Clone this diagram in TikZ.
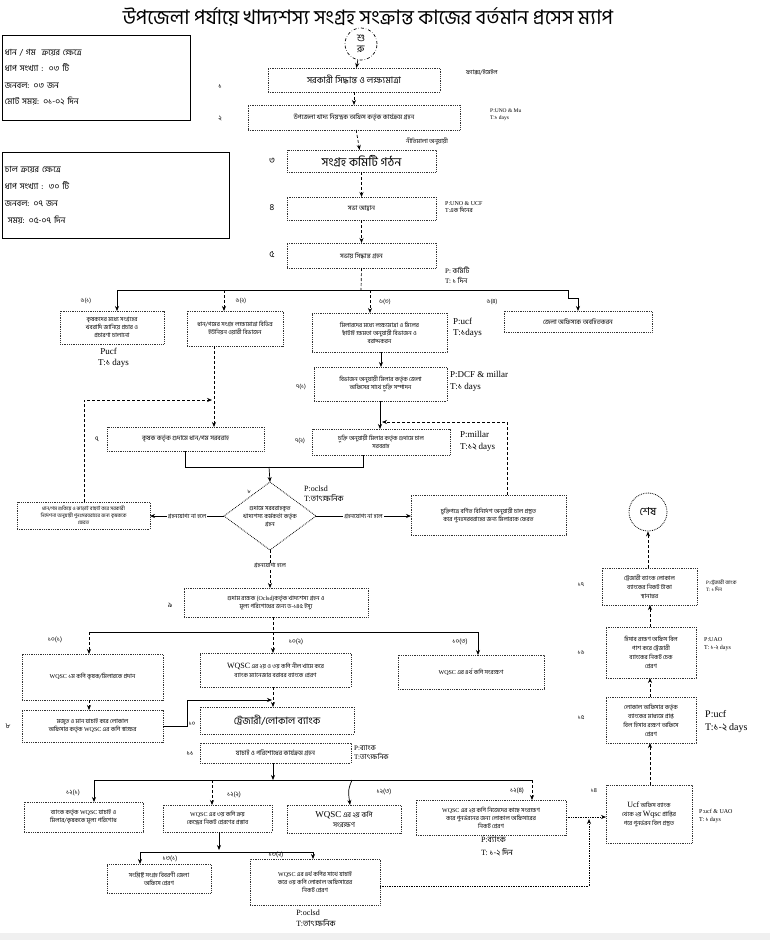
\documentclass[tikz,border=0pt]{standalone}
\usepackage{fontspec}
\setmainfont[Script=Bengali]{Hind Siliguri}
\newfontfamily\lt{Liberation Serif}
\usetikzlibrary{arrows.meta}
\newcommand{\fs}[2]{\fontsize{#1}{#2}\selectfont}
\newcommand{\W}{{\lt WQSC}}
\newcommand{\mybox}[7][]{%
\pgfmathsetmacro{\bw}{#5-#3}\pgfmathsetmacro{\bh}{#6-#4}%
\pgfmathsetmacro{\bcx}{(#3+#5)/2}\pgfmathsetmacro{\bcy}{(#4+#6)/2}%
\node[box,minimum width=\bw pt,minimum height=\bh pt,#1] (#2) at (\bcx,\bcy) {#7};}
\tikzset{
 box/.style={draw=black!80, densely dotted, line width=0.8pt, align=center, inner sep=1pt, outer sep=0pt, font=\fs{6.5}{8.5}},
 sbox/.style={draw=black, solid, line width=0.8pt},
 arr/.style={-{Stealth[length=5pt,width=4pt]}, line width=0.7pt},
 dsh/.style={densely dashed},
 ln/.style={line width=0.7pt},
 lbl/.style={font=\fs{7}{8}, inner sep=0pt},
 note/.style={font=\fs{6}{7.5}, align=left, anchor=west, inner sep=0pt},
 onl/.style={fill=white, inner sep=1pt, font=\fs{6}{7}},
}
\begin{document}
\begin{tikzpicture}[x=1pt,y=-1pt]
\path[use as bounding box, fill=white] (0,0) rectangle (770,940);
\fill[black!6] (0,933) rectangle (770,940);
% title
\node[font=\fs{20}{22}, inner sep=0] (title) at (368,17) {উপজেলা পর্যায়ে খাদ্যশস্য সংগ্রহ সংক্রান্ত কাজের বর্তমান প্রসেস ম্যাপ};
% info boxes
\node[sbox, minimum width=188pt, minimum height=85pt, text width=182pt, align=left, font=\fs{8.5}{16.5}, inner sep=2pt] (info1) at (96,77.5) {ধান / গম\ \ ক্রয়ের ক্ষেত্রে\\ধাপ সংখ্যা :\ \ ০৩ টি\\জনবল: ০৩ জন\\মোট সময়: ০১-০২ দিন};
\node[sbox, minimum width=227pt, minimum height=86pt, text width=221pt, align=left, font=\fs{8.5}{17}, inner sep=2pt] (info2) at (115.5,195) {চাল ক্রয়ের ক্ষেত্রে\\ধাপ সংখ্যা :\ \ ৩০ টি\\জনবল: ০৭ জন\\\ সময়: ০৫-০৭ দিন};
% start / end
\node[circle, draw, dash dot, line width=0.7pt, minimum size=32pt, inner sep=0, align=center, font=\fs{10}{11}] (start) at (361,44) {শু\\রু};
\node[circle, draw, densely dotted, line width=0.8pt, minimum size=38pt, inner sep=0, font=\fs{11}{12}] (fin) at (648,512) {শেষ};
% main steps
\mybox[font=\fs{9}{10}]{s1}{268}{68}{440}{92}{সরকারী সিদ্ধান্ত ও লক্ষ্যমাত্রা}
\mybox{s2}{248}{105}{460}{130}{উপজেলা খাদ্য নিয়ন্ত্রক অফিস কর্তৃক কার্যক্রম গ্রহন}
\mybox[font=\fs{12}{13}]{s3}{287}{150}{436}{172}{সংগ্রহ কমিটি গঠন}
\mybox{s4}{287}{197}{436}{220}{সভা আহ্বান}
\mybox{s5}{287}{243}{436}{268}{সভায় সিদ্ধান্ত গ্রহন}
\node[lbl] (l1) at (220,86) {১};
\node[lbl] (l2) at (220,118) {২};
\node[lbl, font=\fs{9}{10}] (l3) at (272,161) {৩};
\node[lbl, font=\fs{9}{10}] (l4) at (272,208) {৪};
\node[lbl, font=\fs{9}{10}] (l5) at (272,255) {৫};
\node[note] (n1) at (466,72) {ফ্যাক্স/ইমেইল};
\node[note, font=\fs{5.5}{7}] (n2) at (490,115) {{\lt P:UNO \& Mu}\\{\lt T:}১ {\lt days}};
\node[font=\fs{6}{7}, inner sep=0] (n3) at (427,141) {নীতিমালা অনুযায়ী};
\node[note, font=\fs{6}{7}] (n4) at (445,207) {{\lt P:UNO \& UCF}\\{\lt T:}এক দিনের};
\node[note, font=\fs{7}{10}] (n5) at (445,275) {{\lt P:} কমিটি\\{\lt T:} ১ দিন};
% row 6
\mybox[font=\fs{6}{8}]{b61}{60}{311}{164}{344}{কৃষকদের মধ্যে সংগ্রহের\\খবরাদি জানিয়ে প্রচার ও\\প্রচারণা চালানো}
\mybox[font=\fs{6}{8}]{b62}{187}{311}{283}{346}{ধান/গমের সংগ্রহ লক্ষ্যমাত্রা বিভিন্ন\\ইউনিয়ন ওয়ারী বিভাজন}
\mybox[font=\fs{6}{8}]{b63}{312}{313}{447}{352}{মিলারদের মধ্যে লক্ষ্যমাত্রা ও মিলের\\ছাঁটাই ক্ষমতা অনুযায়ী বিভাজন ও\\বরাদ্দকরন}
\mybox{b64}{504}{311}{652}{332}{জেলা অফিসকে অবহিতকরন}
\node[lbl, font=\fs{6}{7}] (l61) at (86,301) {৬(১)};
\node[lbl, font=\fs{6}{7}] (l62) at (241,301) {৬(২)};
\node[lbl, font=\fs{6}{7}] (l63) at (385,302) {৬(৩)};
\node[lbl, font=\fs{6}{7}] (l64) at (492,302) {৬(৪)};
\node[note, font=\fs{9}{11}] (n61) at (98,358) {{\lt\ Pucf}\\{\lt T:}১ {\lt days}};
\node[note, font=\fs{9}{11}] (n63) at (453,328) {{\lt P:ucf}\\{\lt T:}১{\lt days}};
% row 7
\mybox[font=\fs{6}{8}]{b71}{314}{367}{447}{401}{বিভাজন অনুযায়ী মিলার কর্তৃক জেলা\\অফিসের সাথে চুক্তি সম্পাদন}
\mybox[font=\fs{6}{8}]{b72}{312}{429}{450}{455}{চুক্তি অনুযায়ী মিলার কর্তৃক গুদামে চাল\\সরবরাহ}
\mybox{s7}{107}{427}{264}{451}{কৃষক কর্তৃক গুদামে ধান/গম সরবরাহ}
\node[lbl, font=\fs{6}{7}] (l71) at (301,387) {৭(১)};
\node[lbl, font=\fs{6}{7}] (l72) at (300,441) {৭(২)};
\node[lbl] (l7) at (97,439) {৭};
\node[note, font=\fs{9}{12}] (n71) at (450,381) {{\lt P:DCF \& millar}\\{\lt T:}১ {\lt days}};
\node[note, font=\fs{9}{12}] (n72) at (460,441) {{\lt P:millar}\\{\lt T:}১২ {\lt days}};
% decision
\coordinate (dT) at (270,482);
\coordinate (dB) at (270,550);
\coordinate (dL) at (224,516);
\coordinate (dR) at (316,516);
\draw[densely dotted, line width=0.8pt] (dT) -- (dR) -- (dB) -- (dL) -- cycle;
\node[align=center, font=\fs{6}{8}, inner sep=0] (dtext) at (270,516) {গুদামে সরবরাহকৃত\\খাদ্যশস্য কর্মকর্তা কর্তৃক\\গ্রহন};
\node[lbl, font=\fs{5}{6}] (l8) at (249,492) {৮};
\node[note, font=\fs{8}{10}] (nd) at (304,494) {{\lt P:oclsd}\\{\lt T:}তাৎক্ষনিক};
\mybox[font=\fs{5}{7}]{lf}{17}{502}{150}{529}{ধান/গম শুকিয়ে ও ঝাড়াই বাছাই করে সরকারী\\নির্দেশনা অনুযায়ী পুনঃসরবরাহের জন্য কৃষককে\\ফেরত}
\mybox[font=\fs{6}{8}]{rf}{411}{495}{566}{535}{চুক্তিপত্রে বর্ণিত বিনির্দেশ অনুযায়ী চাল প্রস্তুত\\করে পুনঃসরবরাহের জন্য মিলারকে ফেরত}
% step 9
\mybox[font=\fs{6}{8}]{s9}{184}{588}{368}{617}{গুদাম রক্ষক ({\lt Oclsd})কর্তৃক খাদ্যশস্য গ্রহন ও\\মূল্য পরিশোধের জন্য ড-১৪৫ ইস্যু}
\node[lbl] (l9) at (170,605) {৯};
% row 10
\mybox[font=\fs{6}{8}]{b101}{22}{654}{163}{700}{\W\ ১ম কপি কৃষক/মিলারকে প্রদান}
\mybox[font=\fs{6}{9}]{b102}{200}{653}{351}{687}{{\fs{8}{9}\W} এর ২য় ও ৩য় কপি নীল খামে করে\\ব্যাংক ম্যানেজার বরাবর ব্যাংকে প্রেরণ}
\mybox[font=\fs{6}{8}]{b103}{398}{655}{544}{689}{\W\ এর ৪র্থ কপি সংরক্ষণ}
\node[lbl, font=\fs{6.5}{7}] (l101) at (55,640) {১০(১)};
\node[lbl, font=\fs{6.5}{7}] (l102) at (296,642) {১০(২)};
\node[lbl, font=\fs{6.5}{7}] (l103) at (460,642) {১০(৩)};
\mybox[font=\fs{6}{8}]{b8}{22}{710}{163}{742}{মজুত ও মান যাচাই করে লোকাল\\অফিসার কর্তৃক \W\ এর কপি স্বাক্ষর}
\node[lbl] (l8b) at (8,726) {৮};
\mybox[font=\fs{10}{11}]{bank}{200}{707}{354}{734}{ট্রেজারী/লোকাল ব্যাংক}
\node[lbl, font=\fs{6}{7}] (lbank) at (192,724) {১০};
\mybox{s11}{200}{743}{351}{763}{যাচাই ও পরিশোধের কার্যক্রম গ্রহন}
\node[lbl] (l11) at (190,753) {১১};
\node[note, font=\fs{7}{9}] (n11) at (354,752) {{\lt P:}ব্যাংক\\{\lt T:}তাৎক্ষনিক};
% row 12
\mybox[font=\fs{6}{8}]{b121}{24}{802}{143}{832}{ব্যাংক কর্তৃক \W\ যাচাই ও\\মিলার/কৃষককে মূল্য পরিশোধ}
\mybox[font=\fs{6}{8}]{b122}{163}{805}{272}{832}{\W\ এর ৩য় কপি ক্রয়\\কেন্দ্রের নিকট প্রেরণের প্রস্তাব}
\mybox[font=\fs{7}{10}]{b123}{287}{805}{401}{833}{{\fs{9}{10}\W} এর ২য় কপি\\সংরক্ষণ}
\mybox[font=\fs{6}{8}]{b124}{416}{800}{566}{835}{\W\ এর ২য় কপি নিজেদের কাছে সংরক্ষণ\\করে পুনর্ভরনের জন্য লোকাল অফিসারের\\নিকট প্রেরণ}
\node[lbl, font=\fs{6.5}{7}] (l121) at (73,793) {১২(১)};
\node[lbl, font=\fs{6.5}{7}] (l122) at (234,795) {১২(২)};
\node[lbl, font=\fs{6.5}{7}] (l123) at (384,792) {১২(৩)};
\node[lbl, font=\fs{6.5}{7}] (l124) at (517,791) {১২(৪)};
\node[note, font=\fs{8}{13}, anchor=center, align=left] (n124) at (497,846) {{\lt P:}ব্যাংক\\{\lt T:} ১-২ দিন};
% row 13
\mybox[font=\fs{6}{8}]{b131}{107}{864}{211}{893}{সংশ্লিষ্ট সংগ্রহ বিবরণী জেলা\\অফিসে প্রেরণ}
\mybox[font=\fs{6}{8}]{b132}{250}{859}{380}{905}{\W\ এর ৪র্থ কপির সাথে যাচাই\\করে ৩য় কপি লোকাল অফিসারের\\নিকট প্রেরণ}
\node[lbl, font=\fs{6.5}{7}] (l131) at (170,859) {১৩(১)};
\node[lbl, font=\fs{6.5}{7}] (l132) at (276,855) {১৩(২)};
\node[note, font=\fs{8}{11}, anchor=center, align=left] (n132) at (316,918) {{\lt P:oclsd}\\{\lt T:}তাৎক্ষনিক};
% right column
\mybox[font=\fs{6}{9}]{b14}{606}{785}{692}{843}{{\fs{8}{9}\lt Ucf} অফিস ব্যাংক\\থেকে ২য় {\fs{8}{9}\lt Wqsc} প্রাপ্তির\\পরে পুনর্ভরন বিল প্রস্তুত}
\mybox[font=\fs{6}{9}]{b15}{606}{697}{696}{743}{লোকাল অফিসার কর্তৃক\\ব্যাংকের মাধ্যমে প্রাপ্ত\\বিল হিসাব রক্ষণ অফিসে\\প্রেরণ}
\mybox[font=\fs{6}{9}]{b16}{606}{627}{696}{678}{হিসাব রক্ষণ অফিস বিল\\পাশ করে ট্রেজারী\\ব্যাংকের নিকট চেক\\প্রেরণ}
\mybox[font=\fs{6}{9}]{b17}{602}{568}{697}{605}{ট্রেজারী ব্যাংক লোকাল\\ব্যাংকের নিকট টাকা\\স্থানান্তর}
\node[lbl, font=\fs{6}{7}] (l14) at (594,791) {১৪};
\node[lbl, font=\fs{6}{7}] (l15) at (581,718) {১৫};
\node[lbl, font=\fs{6}{7}] (l16) at (581,653) {১৬};
\node[lbl, font=\fs{6}{7}] (l17) at (581,585) {১৭};
\node[note, font=\fs{6}{7.5}] (n14) at (699,816) {{\lt P:ucf \& UAO}\\{\lt T:} ১ {\lt days}};
\node[note, font=\fs{10}{13}] (n15) at (705,722) {{\lt P:ucf}\\{\lt T:}১-২ {\lt days}};
\node[note, font=\fs{6}{8}] (n16) at (704,644) {{\lt P:UAO}\\{\lt T:} ১-২ {\lt days}};
\node[note, font=\fs{5}{7}] (n17) at (706,586) {{\lt P:}ট্রেজারী ব্যাংক\\{\lt T:} ১ দিন};
% ---------- connectors ----------
\draw[arr] (start) -- (s1);
\draw[arr, dsh] (s1) -- (s2);
\draw[arr, dsh] (s2) -- (s3);
\draw[arr, dsh] (s3) -- (s4);
\draw[arr, dsh] (s4) -- (s5);
\coordinate (br6) at (361,290);
\draw[ln, dsh] (s5.south) -- (br6);
\draw[ln] (117,290) -- (568,290) -- (568,298) -- (578,298);
\draw[arr] (117,290) -- (b61.north -| 117,0);
\draw[arr, dsh] (224,290) -- (b62.north -| 224,0);
\draw[arr, dsh] (370,290) -- (b63.north -| 370,0);
\draw[arr] (578,298) -- (b64.north -| 578,0);
\draw[arr] (b63.south -| 381,0) -- (b71.north -| 381,0);
\draw[arr] (b71.south -| 380,0) -- (b72.north -| 380,0);
\draw[arr, dsh] (b62.south -| 214,0) -- (s7.north -| 214,0);
% feedback loops
\draw[arr, dsh] (lf.north -| 84,0) |- (212,400);
\draw[arr, dsh] (rf.north -| 507,0) |- (382,422);
% merge into decision
\draw[ln] (s7.south -| 185,0) -- (185,467) -- (363,467) -- (b72.south -| 363,0);
\draw[arr] (269,467) -- (dT);
\draw[arr] (dL) -- node[onl] (gl) {গ্রহনযোগ্য না হলে} (lf.east |- dL);
\draw[arr] (dR) -- node[onl] (gr) {গ্রহনযোগ্য না হলে} (rf.west |- dR);
\draw[arr, dsh] (dB) -- node[onl, pos=0.42] (gy) {গ্রহনযোগ্য হলে} (s9.north -| dB);
% row 10
\draw[ln] (89,632) -- (478,632);
\draw[arr, dsh] (s9.south -| 273,0) -- (b102.north -| 273,0);
\draw[arr, dsh] (89,632) -- (b101.north -| 89,0);
\draw[arr] (478,632) -- (b103.north -| 478,0);
\draw[arr, dsh] (b101.south -| 89,0) -- (b8.north -| 89,0);
\draw[arr] (b8.east) -- (187,726) -- (187,700) -- (272,700);
\draw[arr, dsh] (b102.south -| 273,0) -- (bank.north -| 273,0);
% row 12
\draw[arr] (s11.south -| 273,0) -- (273,780);
\draw[ln] (94,780) -- (532,780);
\draw[arr] (94,780) -- (b121.north -| 94,0);
\draw[arr, dsh] (212,780) -- (b122.north -| 212,0);
\draw[arr] (352,780) .. controls (348,790) .. (b123.north -| 350,0);
\draw[arr, dsh] (532,780) -- (b124.north -| 532,0);
% row 13
\draw[arr] (b122.south -| 219,0) -- (219,850);
\draw[ln] (140,852) -- (313,852);
\draw[arr] (140,852) -- (b131.north -| 140,0);
\draw[arr, dsh] (313,852) -- (b132.north -| 313,0);
% to Ucf box
\draw[arr, densely dotted] (b124.east |- 0,817) -- (b14.west |- 0,817);
\draw[arr, densely dotted] (b132.east |- 0,886) -- (589,886) -- (589,819);
% right column
\draw[arr, dsh] (b14.north -| 650,0) -- (b15.south -| 650,0);
\draw[arr, dsh] (b15.north -| 650,0) -- (b16.south -| 650,0);
\draw[arr, dsh] (b16.north -| 650,0) -- (b17.south -| 650,0);
\draw[arr, dsh] (b17.north -| 648,0) -- (fin);
\end{tikzpicture}
\end{document}
